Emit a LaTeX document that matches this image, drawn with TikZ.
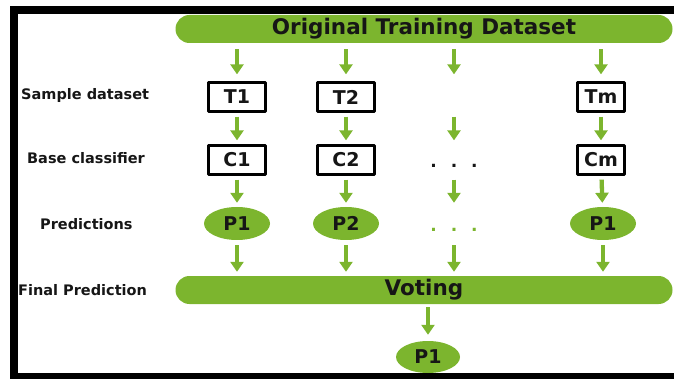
\documentclass[tikz,border=0pt]{standalone}
\usepackage{fontspec}
\setmainfont{DejaVu Sans}
\usetikzlibrary{arrows.meta,shapes.geometric}
\definecolor{vgreen}{RGB}{124,181,46}
\definecolor{vtext}{RGB}{22,22,22}

\begin{document}
\begin{tikzpicture}[x=1pt,y=-1pt,line join=round,
  bar/.style={fill=vgreen,rounded corners=14pt,minimum width=497pt,minimum height=28pt,inner sep=0pt,text=vtext,font=\fontsize{21.5}{22}\selectfont\bfseries},
  sbox/.style={draw=black,line width=2.3pt,minimum width=57pt,minimum height=29pt,inner sep=0pt,text=vtext,font=\fontsize{19}{19}\selectfont\bfseries},
  pell/.style={ellipse,fill=vgreen,minimum width=66pt,minimum height=33pt,inner sep=0pt,text=vtext,font=\fontsize{19}{19}\selectfont\bfseries},
  rowlab/.style={anchor=west,inner sep=0pt,text=vtext,font=\fontsize{14.5}{15}\selectfont\bfseries},
  flow/.style={draw=vgreen,line width=4.3pt,-{Triangle[width=13pt,length=10pt]},shorten <=4pt,shorten >=4pt}]
\useasboundingbox (0,0) rectangle (674,379);
\fill[black] (10,6) rectangle (674,14);
\fill[black] (10,6) rectangle (18,379);
\fill[black] (10,373) rectangle (674,379);

\node[bar] (orig) at (424,29) {Original Training Dataset};
\node[bar] (vote) at (424,290) {Voting};

\node[rowlab] (lsample) at (21,96) {Sample dataset};
\node[rowlab] (lbase) at (27,158) {Base classifier};
\node[rowlab] (lpred) at (40,224) {Predictions};
\node[rowlab] (lfinal) at (18,290) {Final Prediction};

\node[sbox] (t1) at (237,97) {T1};
\node[sbox] (t2) at (346,97) {T2};
\node[sbox,draw=none] (t3) at (454,97) {};
\node[sbox,minimum width=47pt] (t4) at (601,97) {Tm};

\node[sbox] (c1) at (237,160) {C1};
\node[sbox] (c2) at (346,160) {C2};
\node[sbox,draw=none,text height=15pt,text depth=0pt,font=\fontsize{17}{17}\selectfont\bfseries] (c3) at (454,160) {.\hspace{14pt}.\hspace{14pt}.};
\node[sbox,minimum width=47pt] (c4) at (601,160) {Cm};

\node[pell] (p1) at (237,223.5) {P1};
\node[pell] (p2) at (346,223.5) {P2};
\node[pell,fill=none,text=vgreen,text height=16pt,text depth=0pt,font=\fontsize{17}{17}\selectfont\bfseries] (p3) at (454,223.5) {.\hspace{14pt}.\hspace{14pt}.};
\node[pell] (p4) at (603,223.5) {P1};

\node[pell,minimum width=64pt,minimum height=32pt] (fin) at (428,357) {P1};

\foreach \i in {1,...,4} {
  \draw[flow,shorten <=6pt,shorten >=7pt] (orig.south -| t\i) -- (t\i);
  \draw[flow] (t\i) -- (c\i);
  \draw[flow] (c\i) -- (p\i);
  \draw[flow,shorten <=5pt] (p\i) -- (p\i |- vote.north);
}
\draw[flow,shorten <=3pt,shorten >=6pt] (vote.south -| fin) -- (fin);
\end{tikzpicture}
\end{document}
